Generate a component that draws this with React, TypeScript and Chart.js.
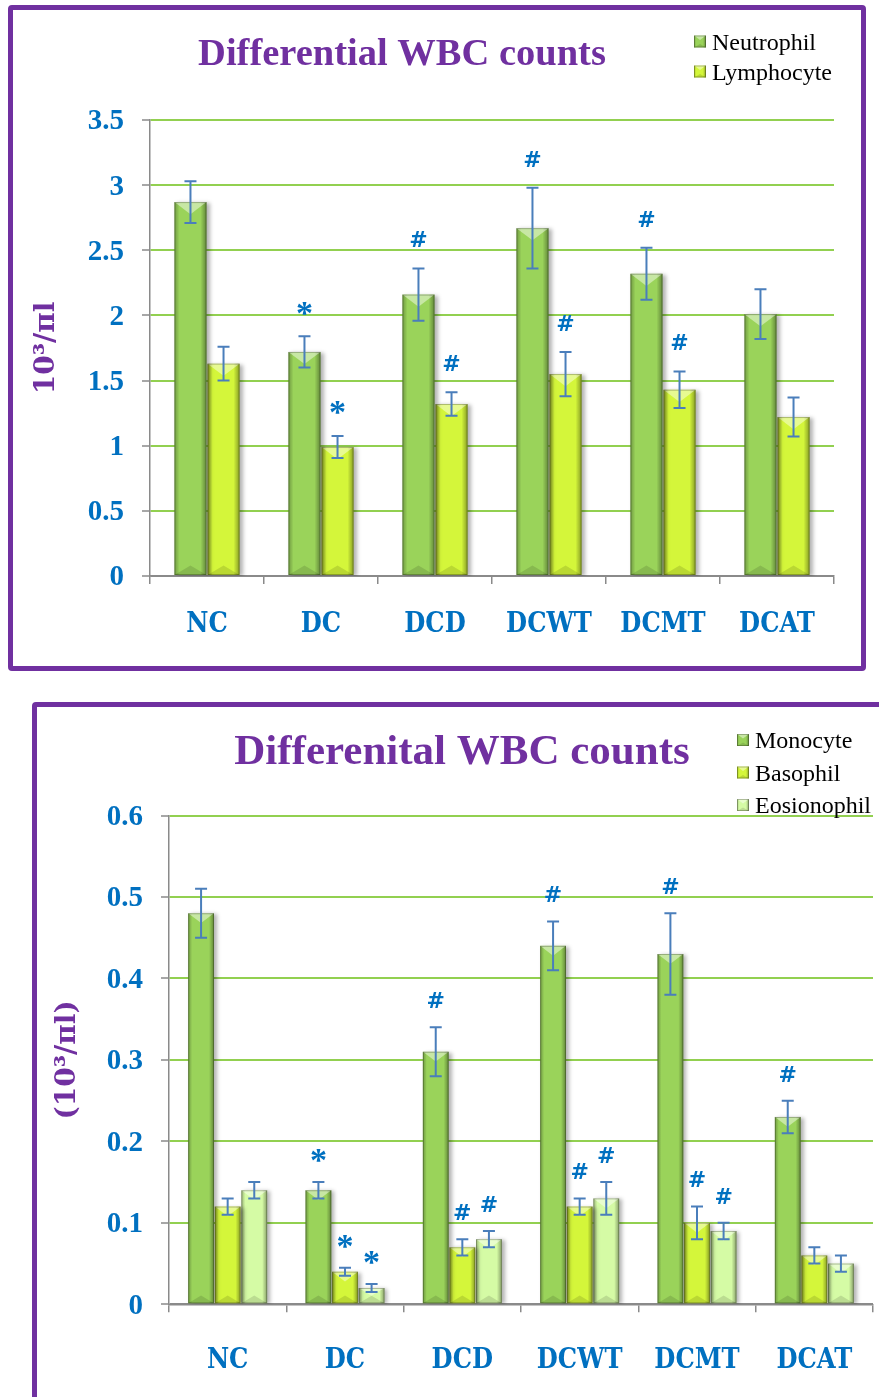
import React, { useEffect, useRef } from "react";
import { Chart, registerables } from "chart.js";
Chart.register(...registerables);

// ---------- data: top chart ----------
const categories = ["NC", "DC", "DCD", "DCWT", "DCMT", "DCAT"];
const neutrophil = [2.87, 1.72, 2.16, 2.67, 2.32, 2.01];
const neutrophilErr = [0.16, 0.12, 0.2, 0.31, 0.2, 0.19];
const lymphocyte = [1.63, 0.99, 1.32, 1.55, 1.43, 1.22];
const lymphocyteErr = [0.13, 0.085, 0.09, 0.17, 0.14, 0.15];
const neutrophilMarks = ["", "*", "#", "#", "#", ""];
const lymphocyteMarks = ["", "*", "#", "#", "#", ""];
const topYTickLabels = ["0", "0.5", "1", "1.5", "2", "2.5", "3", "3.5"];

// ---------- data: bottom chart ----------
const monocyte = [0.48, 0.14, 0.31, 0.44, 0.43, 0.23];
const monocyteErr = [0.03, 0.01, 0.03, 0.03, 0.05, 0.02];
const basophil = [0.12, 0.04, 0.07, 0.12, 0.1, 0.06];
const basophilErr = [0.01, 0.005, 0.01, 0.01, 0.02, 0.01];
const eosinophil = [0.14, 0.02, 0.08, 0.13, 0.09, 0.05];
const eosinophilErr = [0.01, 0.005, 0.01, 0.02, 0.01, 0.01];
const monocyteMarks = ["", "*", "#", "#", "#", "#"];
const basophilMarks = ["", "*", "#", "#", "#", ""];
const eosinophilMarks = ["", "*", "#", "#", "#", ""];
const bottomYTickLabels = ["0", "0.1", "0.2", "0.3", "0.4", "0.5", "0.6"];

const GREEN = "#9ad35a";
const YELLOW = "#d4f63a";
const PALE = "#d5fba5";
const PURPLE = "#7030a0";
const BLUE = "#0070c0";
const AXIS = "#8a8a8a";
const GRID = "#92d050";
const ERR = "#4a7ebb";

function bevel(ctx: CanvasRenderingContext2D, x0: number, x1: number, y0: number, y1: number) {
  const w = x1 - x0;
  const h = y1 - y0;
  if (w <= 0 || h <= 0) return;
  const s = Math.max(2, Math.round(w * 0.15));
  ctx.save();
  let g = ctx.createLinearGradient(x0, 0, x0 + s, 0);
  g.addColorStop(0, "rgba(0,0,0,0.28)");
  g.addColorStop(1, "rgba(0,0,0,0)");
  ctx.fillStyle = g;
  ctx.fillRect(x0, y0, s, h);
  g = ctx.createLinearGradient(x1 - s - 1, 0, x1, 0);
  g.addColorStop(0, "rgba(0,0,0,0)");
  g.addColorStop(1, "rgba(0,0,0,0.36)");
  ctx.fillStyle = g;
  ctx.fillRect(x1 - s - 1, y0, s + 1, h);
  const mid = (x0 + x1) / 2;
  const d = Math.min(w * 0.38, h / 2);
  ctx.beginPath();
  ctx.moveTo(x0, y0);
  ctx.lineTo(x1, y0);
  ctx.lineTo(mid, y0 + d);
  ctx.closePath();
  ctx.fillStyle = "rgba(255,255,255,0.45)";
  ctx.fill();
  const d2 = Math.min(w * 0.3, h / 2);
  ctx.beginPath();
  ctx.moveTo(x0, y1);
  ctx.lineTo(x1, y1);
  ctx.lineTo(mid, y1 - d2);
  ctx.closePath();
  ctx.fillStyle = "rgba(0,0,0,0.12)";
  ctx.fill();
  ctx.strokeStyle = "rgba(0,0,0,0.25)";
  ctx.lineWidth = 1;
  ctx.strokeRect(x0 + 0.5, y0 + 0.5, w - 1, h - 1);
  ctx.restore();
}

type DecoCfg = {
  title: string;
  titleSize: number;
  titleX: number;
  titleBaseline: number;
  legend: { label: string; color: string }[];
  legendBoxX: number;
  legendTextX: number;
  legendBaselines: number[];
  errs: number[][];
  marks: string[][];
  markOffset: number;
};

function makeDeco(cfg: DecoCfg) {
  return {
    id: "deco",
    beforeDatasetDraw(chart: any) {
      const ctx = chart.ctx;
      ctx.save();
      ctx.shadowColor = "rgba(0,0,0,0.3)";
      ctx.shadowBlur = 4;
      ctx.shadowOffsetX = 3;
      ctx.shadowOffsetY = 1;
    },
    afterDatasetDraw(chart: any, args: any) {
      const ctx = chart.ctx;
      ctx.restore();
      args.meta.data.forEach((el: any) => {
        const p = el.getProps(["x", "y", "base", "width"], true);
        bevel(ctx, p.x - p.width / 2, p.x + p.width / 2, Math.min(p.y, p.base), Math.max(p.y, p.base));
      });
    },
    afterDatasetsDraw(chart: any) {
      const ctx = chart.ctx;
      const ys = chart.scales.y;
      chart.data.datasets.forEach((ds: any, i: number) => {
        const meta = chart.getDatasetMeta(i);
        meta.data.forEach((el: any, j: number) => {
          const v = ds.data[j];
          const e = cfg.errs[i][j];
          const x = el.x;
          const yt = ys.getPixelForValue(v + e);
          const yb = ys.getPixelForValue(v - e);
          ctx.save();
          ctx.strokeStyle = ERR;
          ctx.lineWidth = 2;
          ctx.beginPath();
          ctx.moveTo(x, yt);
          ctx.lineTo(x, yb);
          ctx.moveTo(x - 6, yt);
          ctx.lineTo(x + 6, yt);
          ctx.moveTo(x - 6, yb);
          ctx.lineTo(x + 6, yb);
          ctx.stroke();
          const m = cfg.marks[i][j];
          if (m) {
            const size = m === "*" ? 34 : 22;
            const cy = yt - cfg.markOffset;
            ctx.font = `bold ${size}px 'DejaVu Serif', 'Liberation Serif', serif`;
            if (m === "*") ctx.font = `bold ${size}px 'Liberation Serif', serif`;
            ctx.fillStyle = BLUE;
            ctx.textAlign = "center";
            ctx.textBaseline = "alphabetic";
            ctx.fillText(m, x, cy + (m === "*" ? 0.48 : 0.36) * size);
          }
          ctx.restore();
        });
      });
    },
    afterDraw(chart: any) {
      const ctx = chart.ctx;
      ctx.save();
      ctx.font = `bold ${cfg.titleSize}px 'Liberation Serif', serif`;
      ctx.fillStyle = PURPLE;
      ctx.textAlign = "center";
      ctx.textBaseline = "alphabetic";
      ctx.fillText(cfg.title, cfg.titleX, cfg.titleBaseline);
      cfg.legend.forEach((it, k) => {
        const b = cfg.legendBaselines[k];
        ctx.fillStyle = it.color;
        ctx.fillRect(cfg.legendBoxX, b - 14, 12, 12);
        bevel(ctx, cfg.legendBoxX, cfg.legendBoxX + 12, b - 14, b - 2);
        ctx.font = "24px 'Liberation Serif', serif";
        ctx.fillStyle = "#000";
        ctx.textAlign = "left";
        ctx.fillText(it.label, cfg.legendTextX, b);
      });
      ctx.restore();
    },
  };
}

function buildOptions(opts: {
  max: number;
  step: number;
  tickLabels: string[];
  yTitle: string;
  yTitlePad: number;
  yWidth: number;
  xHeight: number;
  xPad: number;
  padding: any;
}): any {
  return {
    responsive: false,
    animation: false,
    layout: { padding: opts.padding },
    plugins: { legend: { display: false }, tooltip: { enabled: false }, title: { display: false } },
    scales: {
      x: {
        offset: true,
        afterFit: (s: any) => {
          s.height = opts.xHeight;
        },
        grid: {
          display: true,
          drawOnChartArea: false,
          offset: true,
          tickLength: 8,
          color: AXIS,
          lineWidth: 1.5,
        },
        border: { display: true, color: AXIS, width: 1.5 },
        ticks: {
          color: BLUE,
          padding: opts.xPad,
          maxRotation: 0,
          autoSkip: false,
          font: { family: "'DejaVu Serif Condensed', 'Liberation Serif', serif", weight: "bold", size: 27 },
        },
      },
      y: {
        min: 0,
        max: opts.max,
        afterFit: (s: any) => {
          s.width = opts.yWidth;
        },
        ticks: {
          stepSize: opts.step,
          color: BLUE,
          padding: 18,
          labelOffset: 2,
          font: { family: "'Liberation Serif', serif", weight: "bold", size: 29 },
          callback: (_v: any, i: number) => opts.tickLabels[i],
        },
        grid: {
          color: (c: any) => (c.tick && c.tick.value === 0 ? AXIS : GRID),
          lineWidth: 2,
          tickLength: 8,
          tickColor: AXIS,
          tickWidth: 1.5,
        },
        border: { display: true, color: AXIS, width: 1.5 },
        title: {
          display: true,
          text: opts.yTitle,
          color: PURPLE,
          padding: { top: opts.yTitlePad, bottom: 0 },
          font: { family: "'DejaVu Serif', serif", weight: "bold", size: 28 },
        },
      },
    },
  };
}

export default function App() {
  const topRef = useRef<HTMLCanvasElement>(null);
  const botRef = useRef<HTMLCanvasElement>(null);

  useEffect(() => {
    const top = new Chart(topRef.current as HTMLCanvasElement, {
      type: "bar",
      data: {
        labels: categories,
        datasets: [
          { label: "Neutrophil", data: neutrophil, backgroundColor: GREEN, borderWidth: 0, categoryPercentage: 0.58, barPercentage: 0.97 },
          { label: "Lymphocyte", data: lymphocyte, backgroundColor: YELLOW, borderWidth: 0, categoryPercentage: 0.58, barPercentage: 0.97 },
        ],
      },
      options: buildOptions({
        max: 3.5,
        step: 0.5,
        tickLabels: topYTickLabels,
        yTitle: "10³/πl",
        yTitlePad: 17,
        yWidth: 137,
        xHeight: 90,
        xPad: 25,
        padding: { top: 110, right: 27, left: 0, bottom: 0 },
      }),
      plugins: [
        makeDeco({
          title: "Differential WBC counts",
          titleSize: 38.5,
          titleX: 389,
          titleBaseline: 55,
          legend: [
            { label: "Neutrophil", color: GREEN },
            { label: "Lymphocyte", color: YELLOW },
          ],
          legendBoxX: 681,
          legendTextX: 699,
          legendBaselines: [39.5, 69.5],
          errs: [neutrophilErr, lymphocyteErr],
          marks: [neutrophilMarks, lymphocyteMarks],
          markOffset: 29,
        }),
      ],
    } as any);

    const bot = new Chart(botRef.current as HTMLCanvasElement, {
      type: "bar",
      data: {
        labels: categories,
        datasets: [
          { label: "Monocyte", data: monocyte, backgroundColor: GREEN, borderWidth: 0, categoryPercentage: 0.68, barPercentage: 0.97 },
          { label: "Basophil", data: basophil, backgroundColor: YELLOW, borderWidth: 0, categoryPercentage: 0.68, barPercentage: 0.97 },
          { label: "Eosionophil", data: eosinophil, backgroundColor: PALE, borderWidth: 0, categoryPercentage: 0.68, barPercentage: 0.97 },
        ],
      },
      options: buildOptions({
        max: 0.6,
        step: 0.1,
        tickLabels: bottomYTickLabels,
        yTitle: "(10³/πl)",
        yTitlePad: 14,
        yWidth: 132,
        xHeight: 112.7,
        xPad: 32.5,
        padding: { top: 108.5, right: 24, left: 0, bottom: 0 },
      }),
      plugins: [
        makeDeco({
          title: "Differenital WBC counts",
          titleSize: 43,
          titleX: 425,
          titleBaseline: 57,
          legend: [
            { label: "Monocyte", color: GREEN },
            { label: "Basophil", color: YELLOW },
            { label: "Eosionophil", color: PALE },
          ],
          legendBoxX: 700,
          legendTextX: 718,
          legendBaselines: [41, 73.5, 106],
          errs: [monocyteErr, basophilErr, eosinophilErr],
          marks: [monocyteMarks, basophilMarks, eosinophilMarks],
          markOffset: 27,
        }),
      ],
    } as any);

    return () => {
      top.destroy();
      bot.destroy();
    };
  }, []);

  return (
    <div style={{ position: "fixed", left: 0, top: 0, width: 879, height: 1397, overflow: "hidden", background: "#fff" }}>
      <div
        style={{
          position: "absolute",
          left: 8,
          top: 5,
          width: 858,
          height: 666,
          border: `5px solid ${PURPLE}`,
          borderRadius: 4,
          boxSizing: "border-box",
        }}
      >
        <canvas ref={topRef} width={848} height={656} style={{ display: "block" }} />
      </div>
      <div
        style={{
          position: "absolute",
          left: 32,
          top: 702,
          width: 870,
          height: 720,
          border: `5px solid ${PURPLE}`,
          borderRadius: 4,
          boxSizing: "border-box",
        }}
      >
        <canvas ref={botRef} width={860} height={710} style={{ display: "block" }} />
      </div>
    </div>
  );
}
